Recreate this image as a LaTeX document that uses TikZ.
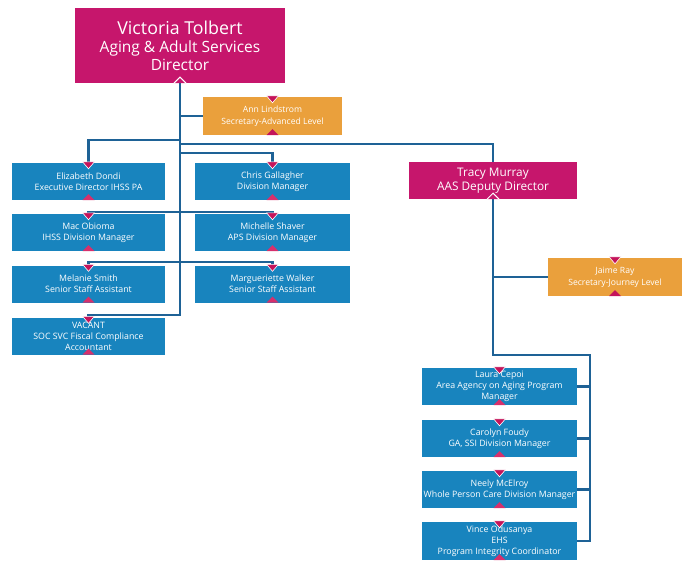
\documentclass[tikz,border=0pt]{standalone}
\usepackage{fontspec}
\setmainfont{Open Sans}
\definecolor{mag}{RGB}{198,22,108}
\definecolor{tri}{RGB}{196,20,90}
\definecolor{tripink}{RGB}{214,48,108}
\definecolor{bluebox}{RGB}{24,132,190}
\definecolor{orangebox}{RGB}{234,160,60}
\definecolor{linecol}{RGB}{30,98,150}
\begin{document}
\begin{tikzpicture}[x=1pt,y=-1pt,
  base/.style={inner sep=0pt,text=white,align=center},
  dirbox/.style={base,fill=mag,minimum width=210pt,minimum height=75pt,font=\fontsize{15.5}{18}\selectfont},
  deputybox/.style={base,fill=mag,minimum width=168pt,minimum height=37pt,font=\fontsize{11.8}{13.5}\selectfont},
  secbox/.style={base,fill=orangebox,minimum width=139pt,minimum height=38pt,font=\fontsize{8.6}{12}\selectfont},
  staffbox/.style={base,fill=bluebox,minimum width=153pt,minimum height=37pt,font=\fontsize{8.8}{11}\selectfont},
  conn/.style={draw=linecol,line width=2.2pt},
]
\useasboundingbox (0,0) rectangle (682,563);
% nodes
\node[dirbox] (dir) at (180,45.5) {{\fontsize{17.8}{19}\selectfont Victoria Tolbert}\\Aging \& Adult Services\\Director};
\node[secbox] (ann) at (272.5,116) {Ann Lindstrom\\Secretary-Advanced Level};
\node[staffbox] (eliz) at (88.5,181.5) {Elizabeth Dondi\\Executive Director IHSS PA};
\node[staffbox] (mac) at (88.5,232.5) {Mac Obioma\\IHSS Division Manager};
\node[staffbox] (mel) at (88.5,284) {Melanie Smith\\Senior Staff Assistant};
\node[staffbox] (vac) at (88.5,336) {VACANT\\SOC SVC Fiscal Compliance\\Accountant};
\node[staffbox,minimum width=155pt] (chris) at (272.5,181.5) {Chris Gallagher\\Division Manager};
\node[staffbox,minimum width=155pt] (mich) at (272.5,232.5) {Michelle Shaver\\APS Division Manager};
\node[staffbox,minimum width=155pt] (marg) at (272.5,284) {Margueriette Walker\\Senior Staff Assistant};
\node[deputybox] (tracy) at (493,180.5) {Tracy Murray\\AAS Deputy Director};
\node[secbox,minimum width=134pt] (jaime) at (615,277) {Jaime Ray\\Secretary-Journey Level};
\node[staffbox,minimum width=155pt] (laura) at (499.5,386.5) {Laura Cepoi\\Area Agency on Aging Program\\Manager};
\node[staffbox,minimum width=155pt] (carol) at (499.5,438.5) {Carolyn Foudy\\GA, SSI Division Manager};
\node[staffbox,minimum width=155pt] (neely) at (499.5,489.5) {Neely McElroy\\Whole Person Care Division Manager};
\node[staffbox,minimum width=155pt,minimum height=38pt] (vince) at (499.5,541) {Vince Odusanya\\EHS\\Program Integrity Coordinator};
% helper coordinates
\coordinate (yE) at (0,140);
\coordinate (yT) at (0,144);
\coordinate (yC) at (0,153);
\coordinate (yM) at (0,212);
\coordinate (yS) at (0,262);
\coordinate (yV) at (0,315);
\coordinate (rtop) at (590,355);
% connectors
\draw[conn] (dir.south) -- (dir.south |- yV) -| (vac.north);
\draw[conn] (dir.south |- ann.west) -- (ann.west);
\draw[conn] (dir.south |- yE) -| (eliz.north);
\draw[conn] (dir.south |- yT) -| (tracy.north);
\draw[conn] (dir.south |- yC) -| (chris.north);
\draw[conn] (mac.north) -- (mac.north |- yM) -- (mich.north |- yM) -- (mich.north);
\draw[conn] (mel.north) -- (mel.north |- yS) -- (marg.north |- yS) -- (marg.north);
\draw[conn] (tracy.south) |- (rtop) -- (rtop |- vince.east) -- (vince.east);
\draw[conn] (tracy.south |- jaime.west) -- (jaime.west);
\foreach \n in {laura,carol,neely} \draw[conn] (\n.east) -- (\n.east -| rtop);
% decorative triangles
\foreach \n in {ann,jaime,eliz,mac,mel,vac,chris,mich,marg,laura,carol,neely,vince}{
  \fill[tri,draw=white,line width=0.6pt] ([xshift=-6pt,yshift=1pt]\n.north) -- ([xshift=6pt,yshift=1pt]\n.north) -- ([yshift=-6pt]\n.north) -- cycle;
}
\foreach \n in {eliz,mac,mel,vac,chris,mich,marg,laura,carol,neely,vince}{
  \fill[tripink] ([xshift=-6pt]\n.south) -- ([xshift=6pt]\n.south) -- ([yshift=6pt]\n.south) -- cycle;
}
\foreach \n in {ann,jaime}{
  \fill[tri] ([xshift=-6pt]\n.south) -- ([xshift=6pt]\n.south) -- ([yshift=6pt]\n.south) -- cycle;
}
\foreach \n in {dir,tracy}{
  \draw[white,fill=mag,line width=1pt] ([xshift=-6pt]\n.south) -- ([yshift=6pt]\n.south) -- ([xshift=6pt]\n.south);
}
\end{tikzpicture}
\end{document}
